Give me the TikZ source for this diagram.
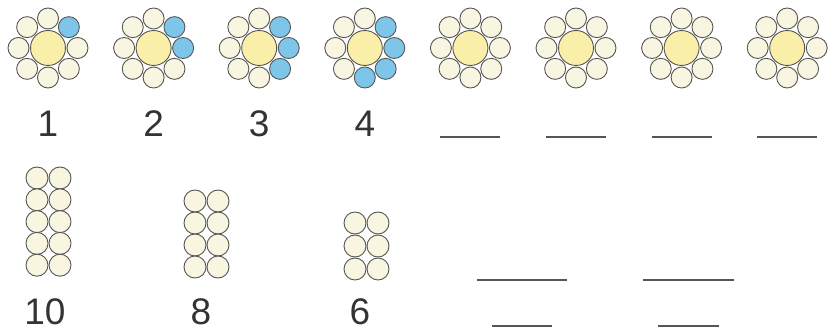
\documentclass[tikz,border=0pt]{standalone}
\usepackage{fontspec}
\setmainfont{Liberation Sans}
\usepackage{tikz}
\usetikzlibrary{positioning, calc}

\definecolor{petalcream}{HTML}{F8F5E1}
\definecolor{centeryellow}{HTML}{F9EFA9}
\definecolor{petalblue}{HTML}{7DC6EA}
\definecolor{rimgray}{HTML}{555555}
\definecolor{digitgray}{HTML}{333333}

\tikzset{
  petal/.style={circle, draw=rimgray, line width=0.9pt, fill=petalcream,
                inner sep=0pt, minimum size=21pt},
  bluepetal/.style={petal, fill=petalblue},
  heart/.style={circle, draw=rimgray, line width=0.9pt, fill=centeryellow,
                inner sep=0pt, minimum size=35pt},
  bead/.style={circle, draw=rimgray, line width=0.9pt, fill=petalcream,
               inner sep=0pt, minimum size=22pt},
  digit/.style={text=digitgray, font=\fontsize{37}{40}\selectfont, inner sep=0pt},
  blank/.style={draw=rimgray, line width=1.3pt}
}

\begin{document}
\begin{tikzpicture}[x=1pt,y=-1pt]
\useasboundingbox (0,0) rectangle (828,331);

% --- ROW 1: FLOWERS ---
\foreach \i in {1,...,8} {
  \pgfmathsetmacro{\cx}{48+105.6*(\i-1)}
  \coordinate (f\i) at (\cx,48);
  \foreach \j in {1,...,8} {
    \pgfmathtruncatemacro{\ang}{90-45*(\j-1)}
    \pgfmathtruncatemacro{\isblue}{(\j>1)&&(\j<=\i+1)&&(\i<5)}
    \ifnum\isblue=1
      \node[bluepetal] (f\i-p\j) at ($(f\i)+(\ang:29.5pt)$) {};
    \else
      \node[petal] (f\i-p\j) at ($(f\i)+(\ang:29.5pt)$) {};
    \fi
  }
  \node[heart] (f\i-c) at (f\i) {};
}

% --- ROW 1: LABELS ---
\foreach \i/\txt in {1/1,2/2,3/3,4/4} {
  \node[digit] (n\i) at ($(f\i)+(0,76)$) {\txt};
}
\foreach \i in {5,...,8} {
  \draw[blank] ($(f\i)+(-30,89)$) -- ($(f\i)+(30,89)$);
}

% --- ROW 2: STACKS ---
\foreach \r in {1,...,5} {
  \node[bead] (ta-\r) at (37,{178+21.8*(\r-1)}) {};
  \node[bead] (tb-\r) at (60,{178+21.8*(\r-1)}) {};
}
\foreach \r in {1,...,4} {
  \node[bead] (ea-\r) at (195,{201+22*(\r-1)}) {};
  \node[bead] (eb-\r) at (218,{201+22*(\r-1)}) {};
}
\foreach \r in {1,...,3} {
  \node[bead] (sa-\r) at (355,{223+23*(\r-1)}) {};
  \node[bead] (sb-\r) at (378,{223+23*(\r-1)}) {};
}

% --- ROW 2: LABELS ---
\node[digit] (ten) at (45,312) {10};
\node[digit] (eight) at (201,312) {8};
\node[digit] (six) at (360,312) {6};

% --- ROW 2: BLANKS ---
\draw[blank] (477,280) -- (567,280);
\draw[blank] (643,280) -- (734,280);
\draw[blank] (492,326) -- (552,326);
\draw[blank] (658,326) -- (719,326);
\end{tikzpicture}
\end{document}
